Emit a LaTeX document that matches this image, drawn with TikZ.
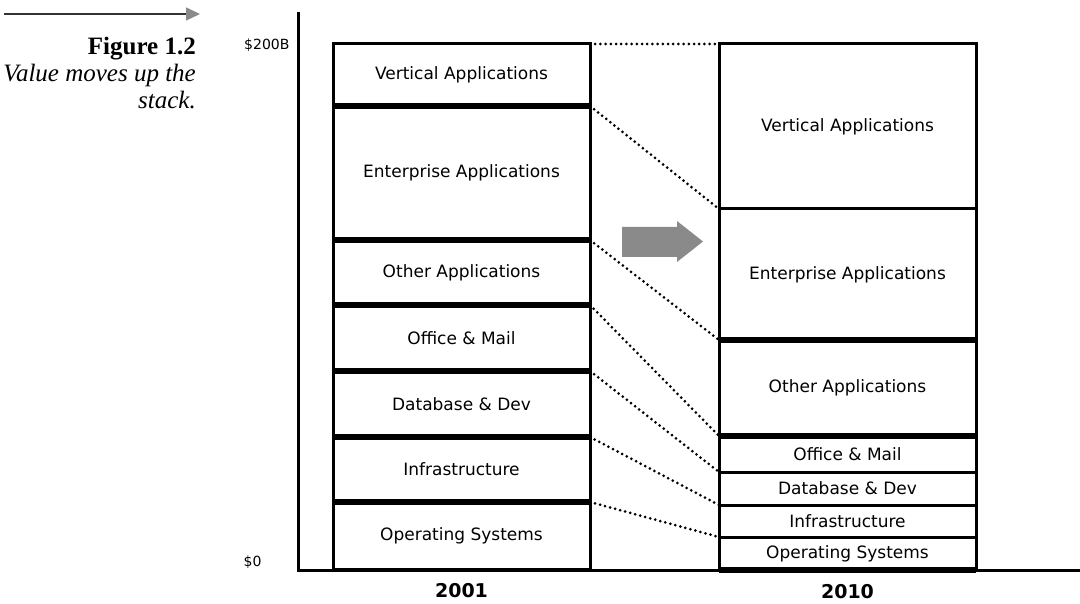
\documentclass[tikz,border=0pt]{standalone}
\usepackage{fontspec}
\setmainfont{Liberation Serif}
\newfontfamily\labelfont{DejaVu Sans}
\usetikzlibrary{arrows.meta,positioning}
\definecolor{arrowgray}{RGB}{138,138,138}

\begin{document}
\begin{tikzpicture}[
    x=1pt, y=-1pt,
    node distance=0pt,
    stackbox/.style={draw, line width=3pt, inner sep=0pt, outer sep=0pt, minimum width=257pt, font=\labelfont\fontsize{17}{19}\selectfont},
    divider/.style={line width=6pt},
    dotlink/.style={line width=3pt, line cap=round, dash pattern=on 0pt off 5.2pt},
    axis/.style={line width=3pt},
    ticklabel/.style={font=\labelfont\fontsize{14}{16}\selectfont},
    yearlabel/.style={font=\labelfont\bfseries\fontsize{19}{21}\selectfont}
  ]
  \useasboundingbox (0,0) rectangle (1080,604);

  % caption
  \draw[line width=1.5pt, color=black!80, -{Triangle[length=14pt,width=13pt,color=arrowgray]}] (4,14) -- (200,14);
  \node[anchor=north east, align=right, inner sep=0pt, font=\fontsize{25}{27}\selectfont] (caption) at (196,37)
    {\textbf{Figure 1.2}\\\textit{Value moves up the}\\\textit{stack.}};

  % axes
  \draw[axis] (298,12) -- (298,570) -- (1080,570);
  \node[ticklabel, anchor=east] (topval) at (293,45) {\$200B};
  \node[ticklabel, anchor=east] (zeroval) at (265,562) {\$0};

  % 2001 stack
  \node[stackbox, anchor=north west, minimum height=62pt] (l-vert) at (333,44) {Vertical Applications};
  \node[stackbox, minimum height=134pt, below=of l-vert] (l-ent) {Enterprise Applications};
  \node[stackbox, minimum height=65pt, below=of l-ent] (l-other) {Other Applications};
  \node[stackbox, minimum height=66pt, below=of l-other] (l-office) {Office \& Mail};
  \node[stackbox, minimum height=66pt, below=of l-office] (l-db) {Database \& Dev};
  \node[stackbox, minimum height=65pt, below=of l-db] (l-infra) {Infrastructure};
  \node[stackbox, minimum height=67pt, below=of l-infra] (l-os) {Operating Systems};

  % 2010 stack
  \node[stackbox, anchor=north west, minimum height=165pt] (r-vert) at (719,44) {Vertical Applications};
  \node[stackbox, minimum height=131pt, below=of r-vert] (r-ent) {Enterprise Applications};
  \node[stackbox, minimum height=96pt, below=of r-ent] (r-other) {Other Applications};
  \node[stackbox, minimum height=36pt, below=of r-other] (r-office) {Office \& Mail};
  \node[stackbox, minimum height=33pt, below=of r-office] (r-db) {Database \& Dev};
  \node[stackbox, minimum height=32pt, below=of r-db] (r-infra) {Infrastructure};
  \node[stackbox, minimum height=33pt, below=of r-infra] (r-os) {Operating Systems};

  % heavy separators
  \foreach \n in {l-vert,l-ent,l-other,l-office,l-db,l-infra}
    \draw[divider] (\n.south west) -- (\n.south east);
  \foreach \n in {r-ent,r-other,r-os}
    \draw[divider] (\n.south west) -- (\n.south east);

  % dotted links between the two years
  \draw[dotlink] (l-vert.north east) -- (r-vert.north west);
  \foreach \n in {vert,ent,other,office,db,infra}
    \draw[dotlink] (l-\n.south east) -- (r-\n.south west);

  % shift arrow
  \fill[arrowgray] (622,227) -- (677,227) -- (677,221) -- (703,241.5) -- (677,262) -- (677,257) -- (622,257) -- cycle;

  \node[yearlabel] (yr-a) at ([yshift=-22pt]l-os.south) {2001};
  \node[yearlabel] (yr-b) at ([yshift=-22pt]r-os.south) {2010};
\end{tikzpicture}
\end{document}
